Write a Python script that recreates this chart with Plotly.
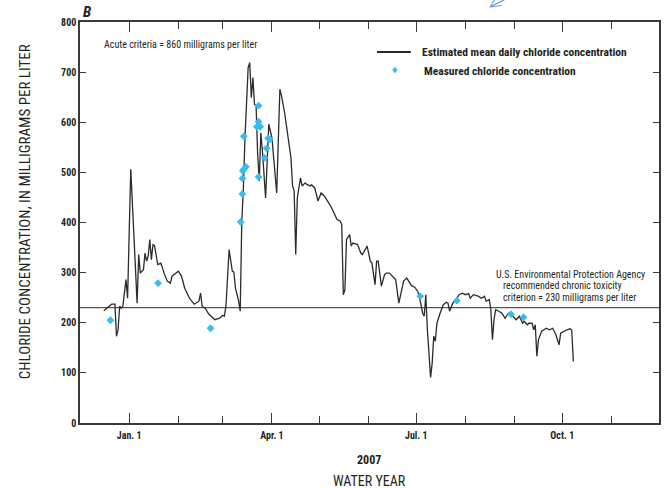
import pandas as pd
import plotly.graph_objects as go

# ---- data (days since 2007-01-01, chloride mg/L) ----
BASE_DATE = "2007-01-01"
line_days = [-16, -13, -11, -9, -8, -7, -6, -5, -4, -2, -1, 1, 3, 5, 6, 7, 9, 10, 11, 12,
             13, 14, 15, 16, 18, 20, 22, 24, 26, 27, 31, 33, 35, 38, 41, 44, 45, 46, 48, 50,
             54, 57, 59, 60, 61, 63, 65, 66, 67, 69, 70, 71, 72, 73, 75, 76, 77, 78, 79, 80,
             81, 82, 83, 84, 86, 87, 88, 90, 92, 93, 95, 96, 98, 100, 102, 103, 104, 105, 106, 108,
             109, 111, 112, 114, 115, 117, 119, 121, 123, 125, 127, 129, 131, 133, 134, 135, 136, 137, 139, 140,
             141, 144, 146, 147, 149, 150, 152, 153, 155, 156, 157, 159, 161, 162, 164, 166, 168, 170, 172, 173,
             175, 177, 178, 180, 182, 183, 185, 186, 187, 188, 190, 191, 192, 193, 194, 196, 198, 200, 201, 202,
             204, 206, 208, 210, 212, 214, 215, 217, 220, 222, 224, 225, 227, 228, 229, 230, 231, 233, 235, 237,
             239, 241, 243, 244, 246, 248, 249, 251, 252, 254, 255, 256, 257, 258, 260, 263, 265, 267, 269, 270,
             271, 272, 274, 276, 278, 279, 280]
line_values = [224, 233, 237, 237, 173, 186, 233, 229, 233, 286, 249, 506, 373, 239, 336, 299, 306, 339, 323, 333,
               366, 326, 356, 354, 316, 319, 299, 283, 279, 293, 303, 293, 269, 249, 237, 243, 259, 233, 229, 218,
               206, 209, 215, 213, 233, 346, 303, 301, 269, 243, 223, 403, 469, 569, 709, 719, 649, 689, 636, 633,
               536, 483, 579, 543, 449, 536, 596, 569, 503, 459, 666, 653, 619, 576, 529, 473, 463, 336, 449, 489,
               473, 479, 476, 473, 475, 469, 443, 459, 453, 443, 433, 420, 406, 403, 396, 256, 266, 366, 376, 353,
               359, 356, 339, 336, 349, 353, 323, 319, 276, 323, 323, 273, 296, 299, 299, 293, 286, 239, 270, 283,
               289, 278, 274, 271, 262, 251, 219, 213, 256, 186, 91, 119, 173, 163, 199, 219, 236, 241, 239, 223,
               239, 246, 256, 259, 256, 258, 249, 256, 253, 249, 253, 243, 246, 226, 166, 206, 226, 223, 219, 209,
               219, 216, 209, 206, 213, 199, 203, 196, 199, 199, 186, 196, 133, 166, 183, 189, 186, 189, 176, 166,
               156, 179, 183, 186, 188, 185, 123]

measured_days = [-11.8, 18.2, 51.3, 70.3, 71.3, 71.4, 71.6, 72.5, 73.6, 72.3, 81.6, 81.6, 80.5, 82.6,
                 81.6, 85.5, 86.6, 87.6, 88.7, 183.5, 206.5, 240.7, 248.6]
measured_values = [205, 279, 189, 401, 457, 488, 503, 507, 511, 572, 633, 601, 591, 591,
                   491, 529, 548, 568, 566, 253, 244, 217, 211]

chronic_criterion = 230
x_range = ["2006-12-01", "2007-12-01"]
major_ticks = ["2007-01-01", "2007-04-01", "2007-07-01", "2007-10-01"]
major_labels = ["Jan. 1", "Apr. 1", "Jul. 1", "Oct. 1"]
minor_ticks = ["2007-02-01", "2007-03-01", "2007-05-01", "2007-06-01",
               "2007-08-01", "2007-09-01", "2007-11-01"]
line_name = "Estimated mean daily chloride concentration"
meas_name = "Measured chloride concentration"

base = pd.Timestamp(BASE_DATE)
line_x = base + pd.to_timedelta(line_days, unit="D")
meas_x = base + pd.to_timedelta(measured_days, unit="D")

FONT = "Liberation Sans Narrow, Roboto Condensed, DejaVu Sans Condensed, Arial Narrow, sans-serif"
TXT = "#231f20"
BLUE = "#36bdef"

# plot area in pixels
L, R, T, B = 80, 661, 22, 423
W, H = R - L, B - T


def px(x):
    return (x - L) / W


def py(y):
    return (B - y) / H


fig = go.Figure()
fig.add_trace(go.Scatter(x=line_x, y=line_values, mode="lines",
                         line=dict(color="#2b2b2b", width=1.3), name=line_name))
fig.add_trace(go.Scatter(x=meas_x, y=measured_values, mode="markers",
                         marker=dict(symbol="diamond", size=6, color=BLUE), name=meas_name))

fig.add_shape(type="line", xref="paper", yref="y", x0=0, x1=1,
              y0=chronic_criterion, y1=chronic_criterion,
              line=dict(color="#555555", width=1.2), layer="below")

# manual legend
fig.add_shape(type="line", xref="paper", yref="paper", x0=px(378), x1=px(412),
              y0=py(52), y1=py(52), line=dict(color="#2b2b2b", width=2))
d = 3.3
fig.add_shape(type="path", xref="paper", yref="paper",
              path=f"M {px(396)} {py(70 - d)} L {px(396 + d * 0.8)} {py(70)} "
                   f"L {px(396)} {py(70 + d)} L {px(396 - d * 0.8)} {py(70)} Z",
              fillcolor=BLUE, line=dict(width=0))

# arrow fragment at top
tip = (491.5, 7)
arrow_col = "#6a9ad8"
for (ex, ey) in [(513, -4), (503, 5.5), (496.5, -1)]:
    fig.add_shape(type="line", xref="paper", yref="paper", x0=px(tip[0]), y0=py(tip[1]),
                  x1=px(ex), y1=py(ey), line=dict(color=arrow_col, width=1.2))

axis_common = dict(showline=True, linecolor="#3a3a3a", linewidth=1.5, mirror="allticks",
                   ticks="inside", tickcolor="#3a3a3a", showgrid=False, zeroline=False)

fig.update_xaxes(type="date", range=x_range, tickmode="array", tickvals=major_ticks,
                 ticktext=major_labels, ticklen=10, tickwidth=1.3,
                 tickfont=dict(family=FONT, size=10, color=TXT, weight="bold"),
                 minor=dict(tickmode="array", tickvals=minor_ticks, ticklen=7,
                            tickwidth=1.2, ticks="inside", tickcolor="#3a3a3a", showgrid=False),
                 ticklabelstandoff=2,
                 **axis_common)
fig.update_yaxes(range=[0, 800], dtick=100, ticklen=6, tickwidth=1.2,
                 tickfont=dict(family=FONT, size=10, color=TXT, weight="bold"),
                 **axis_common)

ann_font = dict(family=FONT, size=10, color=TXT)
leg_font = dict(family=FONT, size=11.5, color=TXT)


def txt(text, x, y, font, xanchor="left", **kw):
    return dict(text=text, x=px(x), y=py(y), xref="paper", yref="paper",
                xanchor=xanchor, yanchor="middle", showarrow=False, font=font, **kw)


fig.update_layout(
    width=668, height=488,
    margin=dict(l=L, r=668 - R, t=T, b=488 - B),
    paper_bgcolor="white", plot_bgcolor="white",
    font=dict(family=FONT, color=TXT),
    showlegend=False,
    annotations=[
        txt("<b><i>B</i></b>", 81, 12, dict(family=FONT, size=15, color=TXT)),
        txt("Acute criteria = 860 milligrams per liter", 102, 45, ann_font),
        txt("<b>" + line_name + "</b>", 421, 52, leg_font),
        txt("<b>" + meas_name + "</b>", 423, 71, leg_font),
        txt("U.S. Environmental Protection Agency", 495, 274, ann_font),
        txt("recommended chronic toxicity", 502, 285, ann_font),
        txt("criterion = 230 milligrams per liter", 502, 297, ann_font),
        txt("CHLORIDE CONCENTRATION, IN MILLIGRAMS PER LITER", 25, 212,
            dict(family=FONT, size=15, color=TXT), xanchor="center", textangle=-90),
        txt("<b>2007</b>", 370, 460, dict(family=FONT, size=12, color=TXT), xanchor="center"),
        txt("WATER YEAR", 370, 481, dict(family=FONT, size=14, color=TXT), xanchor="center"),
    ],
)

fig.write_html("out.html", config={"displayModeBar": False},
               post_script="document.body.style.margin='0';document.body.style.padding='0';")
